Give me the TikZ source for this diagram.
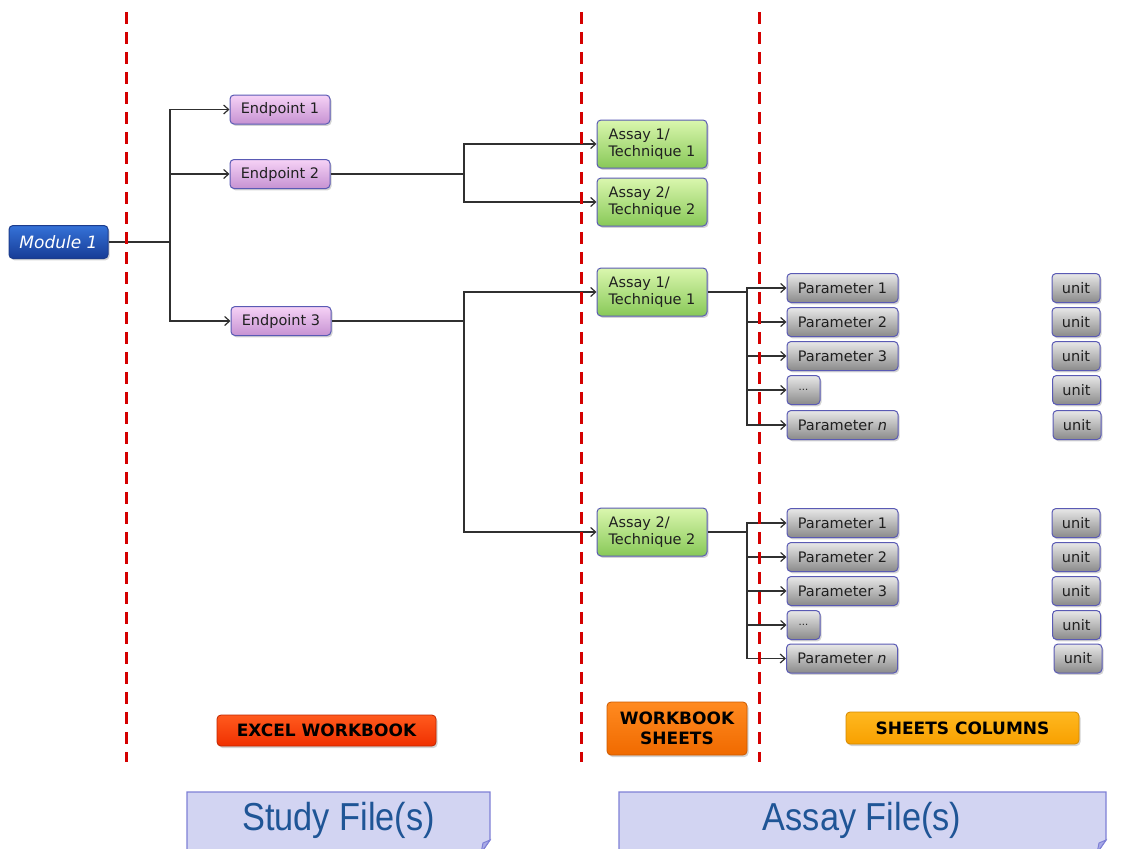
\documentclass[tikz,border=0pt]{standalone}
\usepackage{fontspec}
\setmainfont{DejaVu Sans}
\newfontfamily\narrowf[FakeStretch=0.88]{Liberation Sans}
\usetikzlibrary{arrows.meta,shadows}
\definecolor{dashred}{HTML}{D40000}
\definecolor{conn}{HTML}{303030}
\definecolor{txt}{HTML}{202020}
\definecolor{bordB}{HTML}{5A5AB4}
\definecolor{modTop}{HTML}{3572D8}
\definecolor{modBot}{HTML}{173C96}
\definecolor{modBord}{HTML}{1C3C8C}
\definecolor{epTop}{HTML}{F6D2F6}
\definecolor{epBot}{HTML}{C692D2}
\definecolor{asTop}{HTML}{DAF7AE}
\definecolor{asBot}{HTML}{88C858}
\definecolor{pTop}{HTML}{E8E8E8}
\definecolor{pBot}{HTML}{8A8A8A}
\definecolor{exTop}{HTML}{FF5A1E}
\definecolor{exBot}{HTML}{F03000}
\definecolor{wsTop}{HTML}{FF8A20}
\definecolor{wsBot}{HTML}{F06A00}
\definecolor{scTop}{HTML}{FFB820}
\definecolor{scBot}{HTML}{F8A000}
\definecolor{fileFill}{HTML}{D2D4F2}
\definecolor{fileBord}{HTML}{7E80D6}
\definecolor{fileFold}{HTML}{A8AAE6}
\definecolor{fileTxt}{HTML}{1F5596}
\begin{document}
\begin{tikzpicture}[x=1pt,y=-1pt,
  box/.style={rounded corners=4pt, line width=1pt, inner sep=0pt, align=center,
    font=\fontsize{14.5}{17}\selectfont, text=txt,
    drop shadow={opacity=0.35, shadow xshift=1.5pt, shadow yshift=-1.8pt}},
  modbox/.style={box, draw=modBord, top color=modTop, bottom color=modBot,
    minimum width=99pt, minimum height=33pt, text=white, font=\fontsize{17}{20}\selectfont\itshape},
  epbox/.style={box, draw=bordB, top color=epTop, bottom color=epBot, minimum width=100pt, minimum height=29pt},
  asbox/.style={box, draw=bordB, top color=asTop, bottom color=asBot, minimum width=110pt, minimum height=48pt, align=left},
  pbox/.style={box, draw=bordB, top color=pTop, bottom color=pBot, minimum width=111pt, minimum height=29pt},
  dotbox/.style={box, draw=bordB, top color=pTop, bottom color=pBot, minimum width=33pt, minimum height=29pt, font=\fontsize{10}{12}\selectfont},
  ubox/.style={box, draw=bordB, top color=pTop, bottom color=pBot, minimum width=48pt, minimum height=29pt},
  lbl/.style={rounded corners=4pt, line width=0.8pt, inner sep=0pt, align=center,
    font=\fontsize{17}{21}\selectfont\bfseries, text=black,
    drop shadow={opacity=0.35, shadow xshift=1.5pt, shadow yshift=-2pt}},
  conline/.style={draw=conn, line width=1.2pt},
  arr/.style={conline, -{Straight Barb[length=5pt,width=9pt,line width=1.2pt]}},
  reddash/.style={draw=dashred, line width=3pt, dash pattern=on 12pt off 8pt},
  filetxt/.style={font=\narrowf\fontsize{39}{44}\selectfont, text=fileTxt, inner sep=0pt}
]
\useasboundingbox (0,0) rectangle (1141,849);

% junction coordinates
\coordinate (j1) at (170,242);
\coordinate (j2) at (464,174);
\coordinate (j3) at (464,321);
\coordinate (j4) at (747,292);
\coordinate (j5) at (747,532);
\coordinate (r1t) at (126,12);  \coordinate (r1b) at (126,762);
\coordinate (r2t) at (581,12);  \coordinate (r2b) at (581,762);
\coordinate (r3t) at (759,12);  \coordinate (r3b) at (759,762);

% nodes
\node[modbox] (mod) at (58.5,242) {Module 1};
\node[epbox] (ep1) at (280,109.5) {Endpoint 1};
\node[epbox] (ep2) at (280,174) {Endpoint 2};
\node[epbox] (ep3) at (281,321) {Endpoint 3};

\node[asbox] (a1) at (652,144) {Assay 1/\\Technique 1};
\node[asbox] (a2) at (652,202) {Assay 2/\\Technique 2};
\node[asbox] (a3) at (652,292) {Assay 1/\\Technique 1};
\node[asbox] (a4) at (652,532) {Assay 2/\\Technique 2};

\node[pbox] (p11) at (842.5,288) {Parameter 1};
\node[pbox] (p12) at (842.5,322) {Parameter 2};
\node[pbox] (p13) at (842.5,356) {Parameter 3};
\node[dotbox] (p14) at (803.5,390) {...};
\node[pbox] (p15) at (842.5,425) {Parameter \textit{n}};
\node[ubox] (u11) at (1076,288) {unit};
\node[ubox] (u12) at (1076,322) {unit};
\node[ubox] (u13) at (1076,356) {unit};
\node[ubox] (u14) at (1076.5,390) {unit};
\node[ubox] (u15) at (1077,425) {unit};

\node[pbox] (p21) at (842.5,523) {Parameter 1};
\node[pbox] (p22) at (842.5,557) {Parameter 2};
\node[pbox] (p23) at (842.5,591) {Parameter 3};
\node[dotbox] (p24) at (803.5,625) {...};
\node[pbox] (p25) at (842,658.5) {Parameter \textit{n}};
\node[ubox] (u21) at (1076,523) {unit};
\node[ubox] (u22) at (1076,557) {unit};
\node[ubox] (u23) at (1076,591) {unit};
\node[ubox] (u24) at (1076.5,625) {unit};
\node[ubox] (u25) at (1078,658.5) {unit};

% connectors
\draw[conline] (mod.east) -- (j1);
\draw[arr] (j1) |- (ep1.west);
\draw[arr] (j1) |- (ep2.west);
\draw[arr] (j1) |- (ep3.west);

\draw[conline] (ep2.east) -- (j2);
\draw[arr] (j2) |- (a1.west);
\draw[arr] (j2) |- (a2.west);

\draw[conline] (ep3.east) -- (j3);
\draw[arr] (j3) |- (a3.west);
\draw[arr] (j3) |- (a4.west);

\draw[conline] (a3.east) -- (j4);
\foreach \p in {p11,p12,p13,p14,p15} \draw[arr] (j4) |- (\p.west);
\draw[conline] (a4.east) -- (j5);
\foreach \p in {p21,p22,p23,p24,p25} \draw[arr] (j5) |- (\p.west);

% red dashed separators
\draw[reddash] (r1t) -- (r1b);
\draw[reddash] (r2t) -- (r2b);
\draw[reddash] (r3t) -- (r3b);

% category labels
\node[lbl, draw=exBot!80!black, top color=exTop, bottom color=exBot, minimum width=219pt, minimum height=31pt] (excel) at (326.5,730.5) {EXCEL WORKBOOK};
\node[lbl, draw=wsBot!85!black, top color=wsTop, bottom color=wsBot, minimum width=140pt, minimum height=53pt] (wbs) at (677,728.5) {WORKBOOK\\[-1pt]SHEETS};
\node[lbl, draw=scBot!85!black, top color=scTop, bottom color=scBot, minimum width=233pt, minimum height=32pt] (cols) at (962.5,728) {SHEETS COLUMNS};

% file boxes
\filldraw[fill=fileFill, draw=fileBord, line width=1.2pt] (187,792) -- (490,792) -- (490,840) -- (481,853) -- (187,853) -- cycle;
\filldraw[fill=fileFold, draw=fileBord, line width=1pt] (490,840) -- (483,843) -- (481,853) -- cycle;
\node[filetxt] (study) at (338.5,820) {Study File(s)};

\filldraw[fill=fileFill, draw=fileBord, line width=1.2pt] (619,792) -- (1106,792) -- (1106,840) -- (1097,853) -- (619,853) -- cycle;
\filldraw[fill=fileFold, draw=fileBord, line width=1pt] (1106,840) -- (1099,843) -- (1097,853) -- cycle;
\node[filetxt] (assayf) at (862,820) {Assay File(s)};
\end{tikzpicture}
\end{document}
